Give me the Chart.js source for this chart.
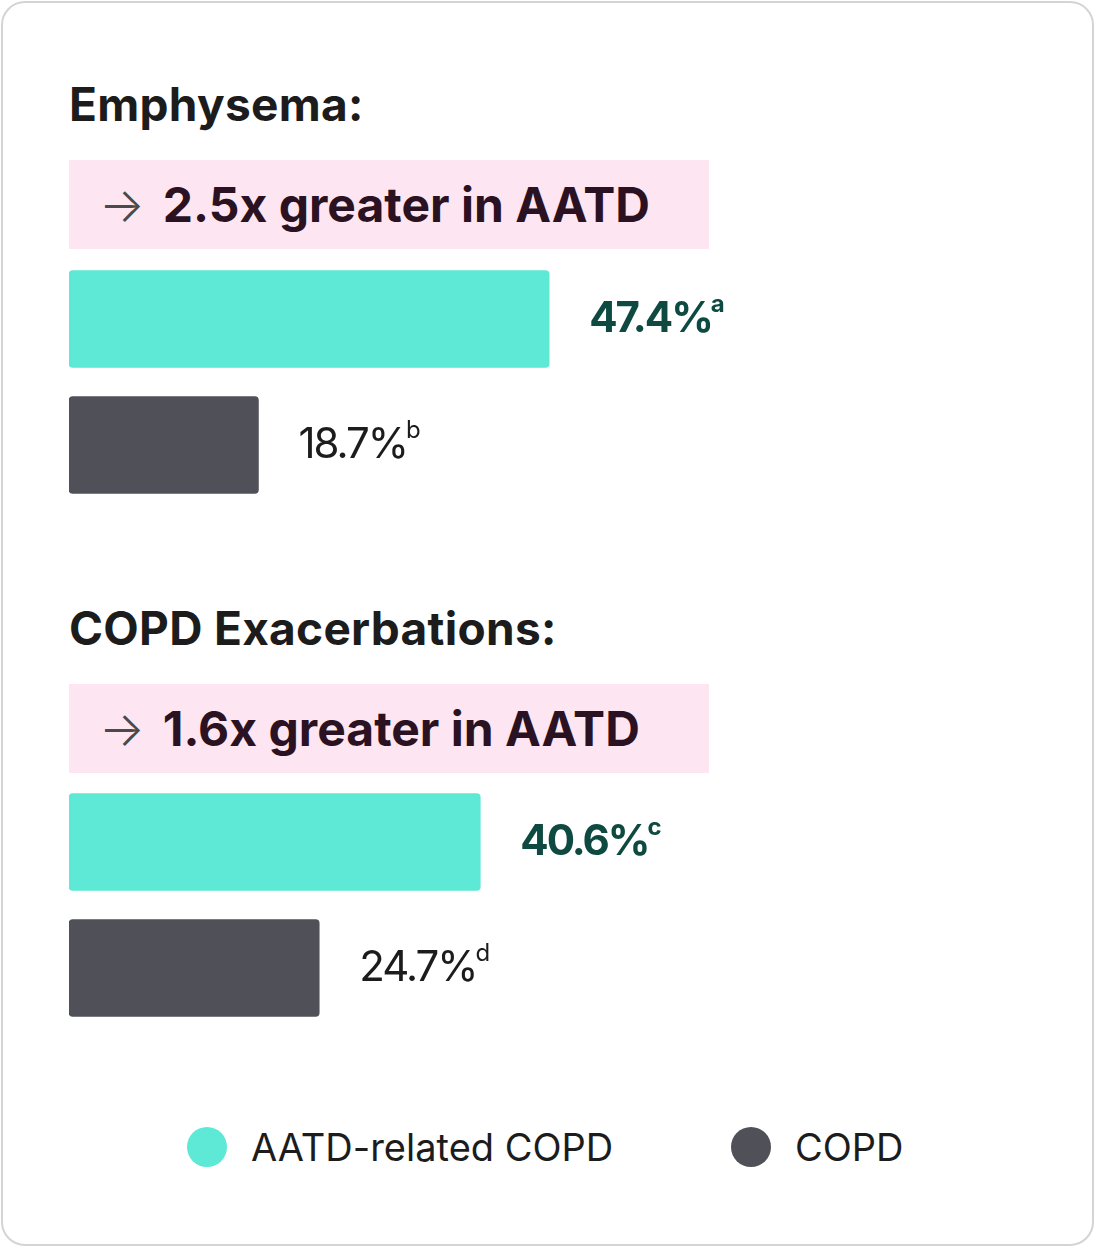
<!DOCTYPE html>
<html>
<head>
<meta charset="utf-8">
<script src="https://cdn.jsdelivr.net/npm/chart.js@4"></script>
<style>
  body { margin: 0; background: #fff; font-family: Inter, "Noto Sans", sans-serif; }
  .card { position: absolute; left: 1px; top: 1px; width: 1089px; height: 1241px; border: 2px solid #d4d4d4; border-radius: 24px; }
  .h { position: absolute; left: 69px; font-size: 46px; font-weight: 700; color: #1c1c1c; margin: 0; letter-spacing: 0.3px; }
  .banner { position: absolute; left: 69px; width: 640px; height: 89px; background: #fde6f1; color: #2b1222;
            font-size: 48px; font-weight: 700; line-height: 89px; box-sizing: border-box; padding-left: 30px; }
  .arrow { font-weight: 300; color: #4a4a4a; margin-right: 18px; }
  .wrap { position: absolute; left: 69px; width: 1013px; height: 252px; }
  .legend { position: absolute; top: 1124px; font-size: 38px; color: #1c1c1c; display: flex; align-items: center; }
  .dot { width: 40px; height: 40px; border-radius: 50%; margin-right: 24px; }
</style>
</head>
<body>
<div class="card"></div>
<div class="h" style="top:76px">Emphysema:</div>
<div class="banner" style="top:160px"><span class="arrow">→</span>2.5x greater in AATD</div>
<div class="wrap" style="top:256px"><canvas id="c1"></canvas></div>
<div class="h" style="top:600px">COPD Exacerbations:</div>
<div class="banner" style="top:684px"><span class="arrow">→</span>1.6x greater in AATD</div>
<div class="wrap" style="top:779px"><canvas id="c2"></canvas></div>
<div class="legend" style="left:187px"><div class="dot" style="background:#5ee8d6"></div>AATD-related COPD</div>
<div class="legend" style="left:731px"><div class="dot" style="background:#505058"></div>COPD</div>
<script>
const groups = ['AATD-related COPD', 'COPD'];
const emphysema = [47.4, 18.7];
const emphysemaNotes = ['a', 'b'];
const exacerbations = [40.6, 24.7];
const exacerbationNotes = ['c', 'd'];
const barColors = ['#5ee8d6', '#505058'];
const labelColors = ['#0f4a42', '#1c1c1c'];

const endLabels = {
    id: 'endLabels',
    afterDatasetsDraw(chart, args, opts) {
        const ctx = chart.ctx;
        const meta = chart.getDatasetMeta(0);
        meta.data.forEach((bar, i) => {
            const txt = chart.data.datasets[0].data[i] + '%';
            const bold = i === 0;
            ctx.save();
            ctx.fillStyle = labelColors[i];
            ctx.textBaseline = 'middle';
            ctx.letterSpacing = '-2px';
            ctx.font = (bold ? '700 ' : '400 ') + '42px Inter, "Noto Sans", sans-serif';
            const x = bar.x + 40;
            ctx.fillText(txt, x, bar.y);
            const w = ctx.measureText(txt).width;
            ctx.letterSpacing = '0px';
            ctx.font = (bold ? '700 ' : '400 ') + '24px Inter, "Noto Sans", sans-serif';
            ctx.fillText(opts.notes[i], x + w - 1, bar.y - 14);
            ctx.restore();
        });
    }
};

function makeChart(id, values, notes) {
    new Chart(document.getElementById(id), {
        type: 'bar',
        data: {
            labels: groups,
            datasets: [{ data: values, backgroundColor: barColors, barThickness: 97, borderRadius: 4, borderSkipped: false }]
        },
        options: {
            indexAxis: 'y',
            responsive: true,
            maintainAspectRatio: false,
            animation: false,
            layout: { padding: 0 },
            plugins: { legend: { display: false }, tooltip: { enabled: false }, endLabels: { notes: notes } },
            scales: {
                x: { display: false, min: 0, max: 100 },
                y: { display: false }
            }
        },
        plugins: [endLabels]
    });
}
makeChart('c1', emphysema, emphysemaNotes);
makeChart('c2', exacerbations, exacerbationNotes);
</script>
</body>
</html>
